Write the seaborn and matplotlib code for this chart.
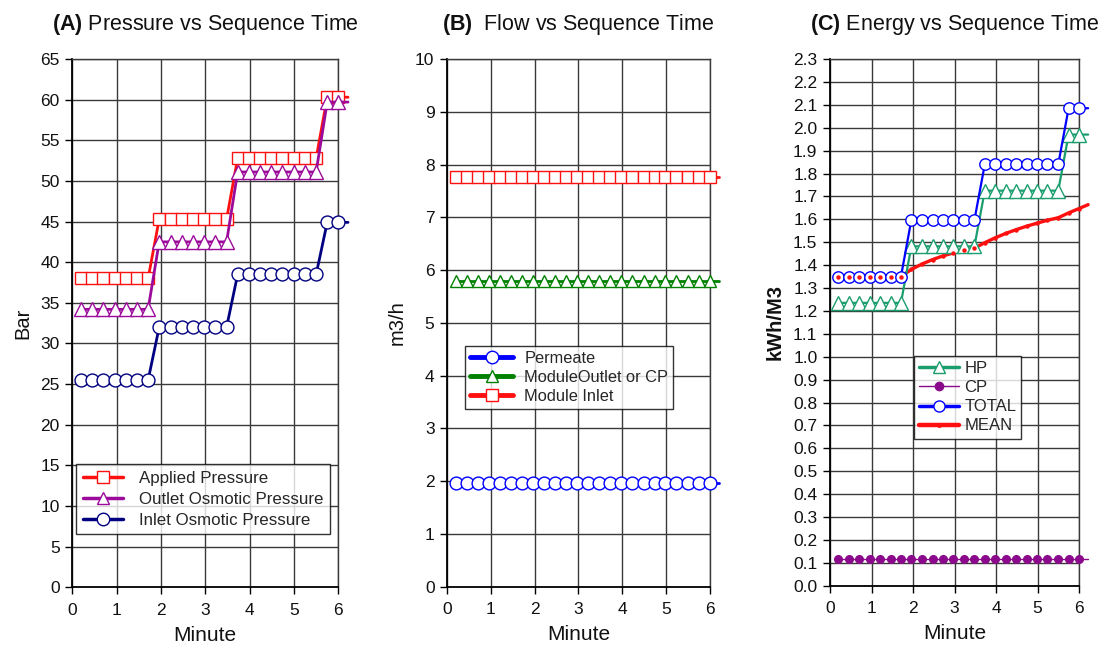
import numpy as np
import pandas as pd
import matplotlib
matplotlib.use("Agg")
import matplotlib.pyplot as plt
from matplotlib.lines import Line2D
import seaborn as sns

# Sample times (minutes); the last sample sits just past the 6-minute axis end
minute = [0.20, 0.45, 0.70, 0.96, 1.21, 1.46, 1.71, 1.96, 2.22, 2.47, 2.72, 2.97,
          3.23, 3.48, 3.73, 3.98, 4.23, 4.49, 4.74, 4.99, 5.24, 5.50, 5.75, 6.00, 6.22]

# (A) Pressures, bar
applied_pressure = [38.0] * 7 + [45.3] * 7 + [52.8] * 8 + [60.3] * 3
outlet_osmotic = [34.2] * 7 + [42.5] * 7 + [51.1] * 8 + [59.7] * 3
inlet_osmotic = [25.5] * 7 + [32.0] * 7 + [38.5] * 8 + [44.9] * 3

# (B) Flows, m3/h
permeate = [1.96] * 25
module_outlet = [5.80] * 25
module_inlet = [7.76] * 25

# (C) Specific energy, kWh/m3
hp_energy = [1.235] * 7 + [1.482] * 7 + [1.725] * 8 + [1.970] * 3
cp_energy = [0.115] * 25
total_energy = [1.350] * 7 + [1.597] * 7 + [1.840] * 8 + [2.085] * 3
mean_energy = [1.350, 1.350, 1.350, 1.350, 1.350, 1.350, 1.350,
               1.381, 1.405, 1.424, 1.440, 1.453, 1.464, 1.474,
               1.498, 1.519, 1.538, 1.555, 1.570, 1.583, 1.596, 1.607,
               1.628, 1.647, 1.664]

sns.set_theme(style="white")
plt.rcParams["font.family"] = ["Liberation Sans", "DejaVu Sans"]
plt.rcParams["mathtext.fontset"] = "custom"
plt.rcParams["mathtext.rm"] = "Liberation Sans"
plt.rcParams["mathtext.bf"] = "Liberation Sans:bold"

W, H = 1103, 647
fig = plt.figure(figsize=(W / 100, H / 100), dpi=100)
fig.patch.set_facecolor("white")


def make_axes(left, right, top, bottom):
    return fig.add_axes([left / W, (H - bottom) / H, (right - left) / W, (bottom - top) / H])


ax_a = make_axes(72.3, 338.3, 59, 587.3)
ax_b = make_axes(447, 709.7, 59, 586.7)
ax_c = make_axes(830, 1079, 59, 585.7)

GRID = "#3a3a3a"
marked = list(range(24))  # markers on the in-range samples only


def draw(ax, y, color, marker, ms, lw=1.6, mfc="white", mew=1.0, zorder=3, every=marked,
         linestyle="-"):
    sns.lineplot(x=minute, y=y, ax=ax, color=color, marker=marker, markersize=ms,
                 markerfacecolor=mfc, markeredgecolor=color, markeredgewidth=mew,
                 linewidth=lw, markevery=every, clip_on=False, zorder=zorder,
                 linestyle=linestyle, estimator=None, sort=False)


def style_axes(ax, ymax, ystep, yfmt, ylabel, title, bold_label=False):
    ax.set_xlim(0, 6)
    ax.set_ylim(0, ymax)
    ax.set_xticks(np.arange(0, 7, 1))
    yt = np.arange(0, ymax + ystep / 2, ystep)
    ax.set_yticks(yt)
    ax.set_yticklabels([yfmt.format(v) for v in yt])
    ax.grid(True, color=GRID, linewidth=1.0)
    ax.set_axisbelow(True)
    for side, sp in ax.spines.items():
        sp.set_visible(True)
        sp.set_color(GRID)
        sp.set_linewidth(1.0)
    ax.spines["left"].set_color("black")
    ax.spines["left"].set_linewidth(1.3)
    ax.spines["bottom"].set_color("black")
    ax.spines["bottom"].set_linewidth(1.3)
    ax.tick_params(axis="both", which="major", direction="out", length=5, width=1,
                   color="black", labelsize=12.5, labelcolor="#111111", pad=4,
                   bottom=True, left=True)
    ax.tick_params(axis="x", pad=6)
    ax.set_xlabel("Minute", fontsize=15, color="#111111", labelpad=6)
    ax.set_ylabel(ylabel, fontsize=14.5, color="#111111",
                  fontweight="bold" if bold_label else "normal", labelpad=6)
    ax.set_title(title, fontsize=15.5, color="#111111", pad=21)
    ax.set_facecolor("white")


# (A) Pressure
RED, PURPLE, NAVY = "#ff1010", "#9b0a9b", "#000080"
draw(ax_a, applied_pressure, RED, "s", 8.4, lw=2.0)
draw(ax_a, outlet_osmotic, PURPLE, "^", 9.4, lw=2.0)
draw(ax_a, inlet_osmotic, NAVY, "o", 9.3, lw=2.0)
style_axes(ax_a, 65, 5, "{:.0f}", "Bar", r"$\mathbf{(A)}$ Pressure vs Sequence Time")
handles_a = [
    Line2D([], [], color=RED, lw=2.5, marker="s", ms=9, mfc="white", mec=RED),
    Line2D([], [], color=PURPLE, lw=2.5, marker="^", ms=9, mfc="white", mec=PURPLE),
    Line2D([], [], color=NAVY, lw=2.5, marker="o", ms=9, mfc="white", mec=NAVY),
]
leg = ax_a.legend(handles_a, ["Applied Pressure", "Outlet Osmotic Pressure", "Inlet Osmotic Pressure"],
                  loc="upper left", bbox_to_anchor=((76 - 72.3) / 266, (587.3 - 464) / 528.3),
                  fontsize=12.2, frameon=True, fancybox=False, handlelength=2.4,
                  handletextpad=0.9, borderpad=0.4, labelspacing=0.35, borderaxespad=0)
leg.get_frame().set_edgecolor("black")
leg.get_frame().set_linewidth(1.0)
leg.set_zorder(10)

# (B) Flow
BLUE, GREEN = "#0000ff", "#008000"
draw(ax_b, module_inlet, RED, "s", 8.0, lw=2.0)
draw(ax_b, module_outlet, GREEN, "^", 9.2, lw=2.0)
draw(ax_b, permeate, BLUE, "o", 9.2, lw=2.0)
style_axes(ax_b, 10, 1, "{:.0f}", "m3/h", r"$\mathbf{(B)}$  Flow vs Sequence Time")
handles_b = [
    Line2D([], [], color=BLUE, lw=3.5, marker="o", ms=9, mfc="white", mec=BLUE),
    Line2D([], [], color=GREEN, lw=3.5, marker="^", ms=9, mfc="white", mec=GREEN),
    Line2D([], [], color=RED, lw=3.5, marker="s", ms=9, mfc="white", mec=RED),
]
leg = ax_b.legend(handles_b, ["Permeate", "ModuleOutlet or CP", "Module Inlet"],
                  loc="upper left", bbox_to_anchor=((465.3 - 447) / 262.7, (586.7 - 345.7) / 527.7),
                  fontsize=11.8, frameon=True, fancybox=False, handlelength=2.6,
                  handletextpad=0.7, borderpad=0.3, labelspacing=0.25, borderaxespad=0)
leg.get_frame().set_edgecolor("black")
leg.get_frame().set_linewidth(1.0)
leg.set_zorder(10)

# (C) Energy
TEAL, PLUM = "#1b9e6e", "#8b0a8b"
draw(ax_c, cp_energy, PLUM, "o", 5.5, lw=1.0, mfc=PLUM)
draw(ax_c, mean_energy, RED, None, 0, lw=2.4, zorder=2, every=None)
draw(ax_c, hp_energy, TEAL, "^", 10.0, lw=1.6)
draw(ax_c, total_energy, BLUE, "o", 8.2, lw=1.6)
sns.lineplot(x=minute, y=mean_energy, ax=ax_c, color=RED, marker="o", markersize=3.2,
             markeredgewidth=0, linestyle="none", markevery=marked, clip_on=False,
             zorder=5, estimator=None, sort=False)
style_axes(ax_c, 2.3, 0.1, "{:.1f}", "kWh/M3", r"$\mathbf{(C)}$ Energy vs Sequence Time",
           bold_label=True)
handles_c = [
    Line2D([], [], color=TEAL, lw=2.5, marker="^", ms=9, mfc="white", mec=TEAL),
    Line2D([], [], color=PLUM, lw=1.0, marker="o", ms=6, mfc=PLUM, mec=PLUM),
    Line2D([], [], color=BLUE, lw=2.5, marker="o", ms=8, mfc="white", mec=BLUE),
    Line2D([], [], color=RED, lw=3.2, marker="o", ms=2.5, mfc=RED, mec=RED),
]
leg = ax_c.legend(handles_c, ["HP", "CP", "TOTAL", "MEAN"],
                  loc="upper left", bbox_to_anchor=((914.3 - 830) / 249, (585.7 - 356) / 526.7),
                  fontsize=12.0, frameon=True, fancybox=False, handlelength=2.4,
                  handletextpad=0.3, borderpad=0.3, labelspacing=0.25, borderaxespad=0)
leg.get_frame().set_edgecolor("black")
leg.get_frame().set_linewidth(1.0)
leg.set_zorder(10)

fig.savefig("out.png", dpi=100, facecolor="white")
